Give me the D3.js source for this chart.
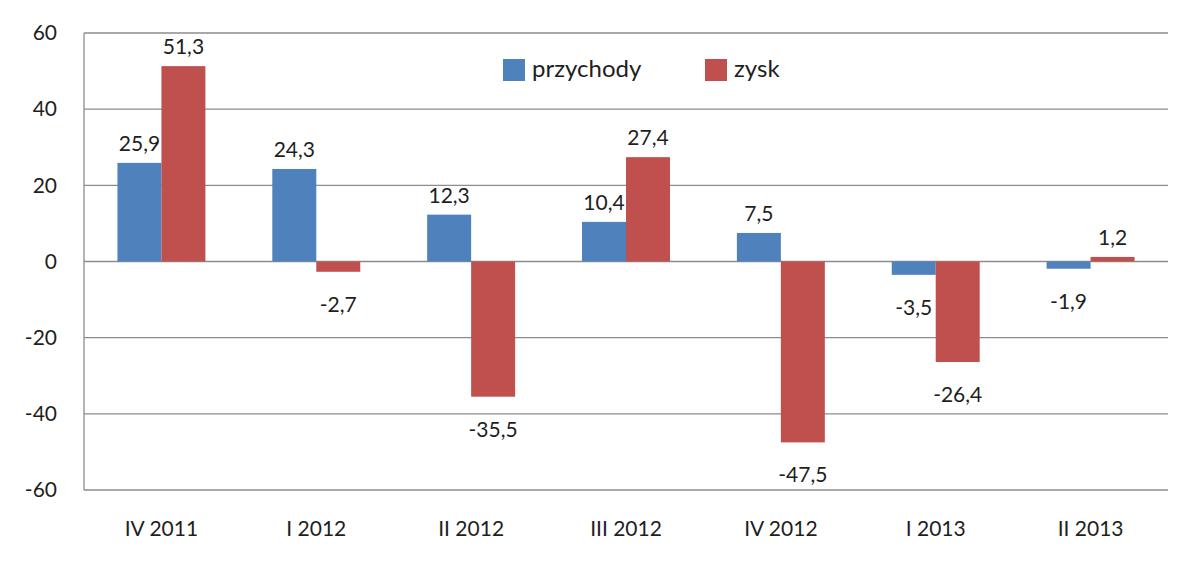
<!DOCTYPE html>
<html>
<head>
<meta charset="utf-8">
<script src="https://cdn.jsdelivr.net/npm/d3@7"></script>
<style>
  body { margin: 0; background: #fff; }
  text { font-family: Lato, "Open Sans", sans-serif; fill: #1e1e1e; }
</style>
</head>
<body>
<script>
// chart data
var categories = ["IV 2011", "I 2012", "II 2012", "III 2012", "IV 2012", "I 2013", "II 2013"];
var seriesNames = ["przychody", "zysk"];
var przychody = [25.9, 24.3, 12.3, 10.4, 7.5, -3.5, -1.9];
var zysk = [51.3, -2.7, -35.5, 27.4, -47.5, -26.4, 1.2];
var yTicks = [-60, -40, -20, 0, 20, 40, 60];
var colors = ["#4F81BD", "#C0504D"];

var width = 1200, height = 563;
var margin = { top: 33, right: 32, bottom: 73, left: 84 };
var w = width - margin.left - margin.right,
    h = height - margin.top - margin.bottom;

var svg = d3.select("body").append("svg")
    .attr("width", width)
    .attr("height", height)
  .append("g")
    .attr("transform", "translate(" + margin.left + "," + margin.top + ")");

// scales
var x = d3.scaleBand().domain(categories).range([0, w]).paddingInner(0.432).paddingOuter(0.216);
var xs = d3.scaleBand().domain(seriesNames).range([0, x.bandwidth()]);
var y = d3.scaleLinear().domain([-60, 60]).range([h, 0]);

// gridlines
svg.append("g")
    .selectAll("line")
    .data(yTicks)
    .enter().append("line")
    .attr("x1", 0).attr("x2", w)
    .attr("y1", function (d) { return y(d); })
    .attr("y2", function (d) { return y(d); })
    .attr("stroke", "#8c8c8c")
    .attr("stroke-width", 1.3);

// left axis line
svg.append("line")
    .attr("x1", 0).attr("x2", 0)
    .attr("y1", 0).attr("y2", h)
    .attr("stroke", "#8c8c8c")
    .attr("stroke-width", 1.3);

// y labels (plain hyphen for negatives, like the original)
var yAxis = svg.append("g")
    .call(d3.axisLeft(y).tickValues(yTicks).tickSize(0).tickPadding(27)
      .tickFormat(function (d) { return String(d); }));
yAxis.select(".domain").remove();
yAxis.selectAll("text").style("font-size", "21px").style("font-family", "Lato, 'Open Sans', sans-serif").attr("fill", "#1e1e1e");

// x labels
var xAxis = svg.append("g")
    .attr("transform", "translate(0," + h + ")")
    .call(d3.axisBottom(x).tickSize(0).tickPadding(31));
xAxis.select(".domain").remove();
xAxis.selectAll("text").style("font-size", "21px").style("font-family", "Lato, 'Open Sans', sans-serif").attr("fill", "#1e1e1e");

// bars
var rows = categories.map(function (c, i) {
  return { cat: c, values: [przychody[i], zysk[i]] };
});

var groups = svg.selectAll(".grp")
    .data(rows)
    .enter().append("g")
    .attr("transform", function (d) { return "translate(" + x(d.cat) + ",0)"; });

groups.selectAll("rect")
    .data(function (d) { return d.values.map(function (v, j) { return { name: seriesNames[j], v: v, j: j }; }); })
    .enter().append("rect")
    .attr("x", function (d) { return xs(d.name); })
    .attr("width", xs.bandwidth())
    .attr("y", function (d) { return y(Math.max(0, d.v)); })
    .attr("height", function (d) { return Math.abs(y(d.v) - y(0)); })
    .attr("fill", function (d) { return colors[d.j]; });

// value labels
groups.selectAll(".lbl")
    .data(function (d) { return d.values.map(function (v, j) { return { name: seriesNames[j], v: v, j: j }; }); })
    .enter().append("text")
    .attr("x", function (d) { return xs(d.name) + xs.bandwidth() / 2; })
    .attr("y", function (d) { return d.v >= 0 ? y(d.v) - 12 : y(d.v) + 40; })
    .attr("text-anchor", "middle")
    .style("font-size", "21px")
    .text(function (d) { return String(d.v).replace(".", ","); });

// legend
var legend = svg.append("g")
    .attr("transform", "translate(419,26)");
var legX = [0, 202];
seriesNames.forEach(function (n, i) {
  legend.append("rect")
      .attr("x", legX[i]).attr("y", 0)
      .attr("width", 22).attr("height", 22)
      .attr("fill", colors[i]);
  legend.append("text")
      .attr("x", legX[i] + 29).attr("y", 18)
      .style("font-size", "24px")
      .text(n);
});
</script>
</body>
</html>
